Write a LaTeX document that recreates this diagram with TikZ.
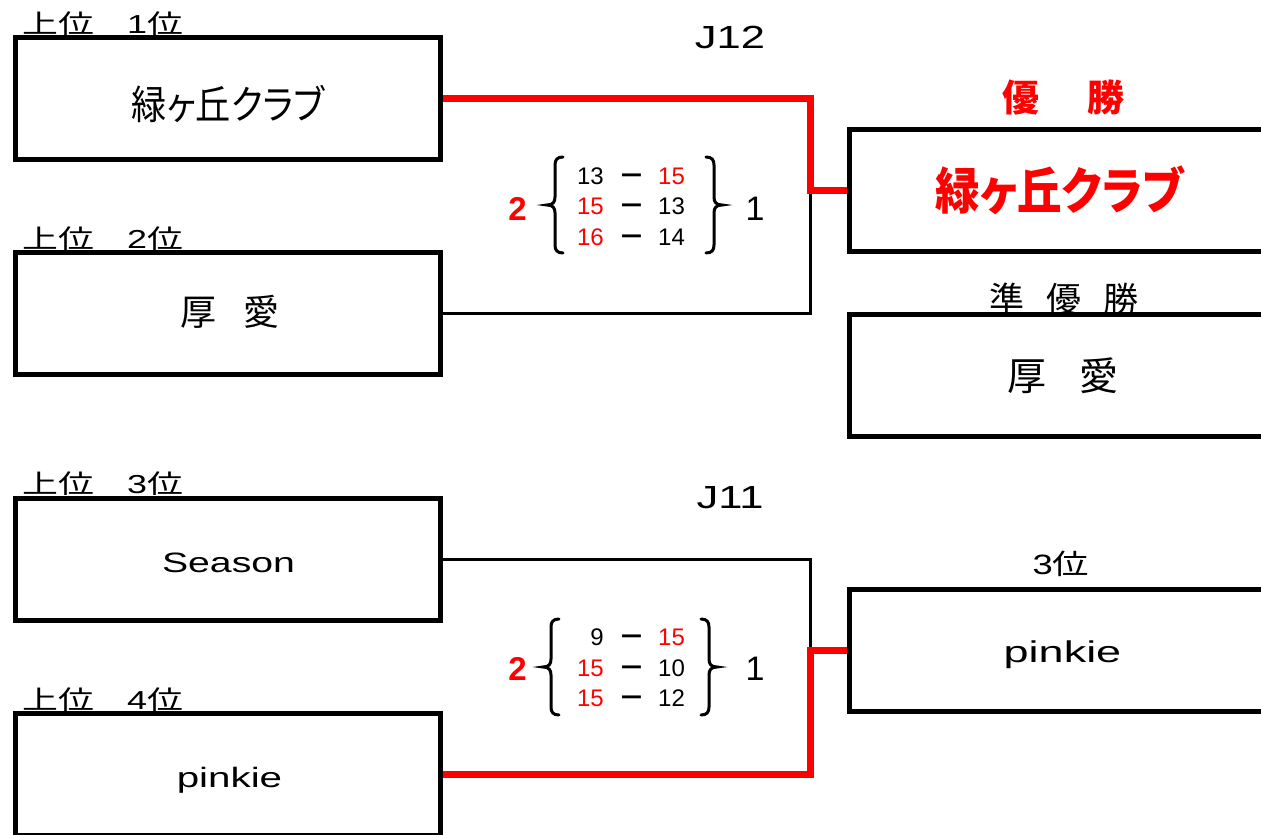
\documentclass[tikz,border=0pt]{standalone}
\usepackage{fontspec}
\usepackage{graphicx}
\setmainfont{Liberation Sans}
\newfontfamily\lat{Liberation Sans}
\newfontfamily\cjk[RawFeature=+palt]{Noto Sans CJK JP}
\newfontfamily\cjkf{Noto Sans CJK JP}
\newcommand\fsz[1]{\fontsize{#1}{#1}\selectfont}
\newcommand\scdash{\scalebox{1.12}[1]{\cjkf\bfseries －}}
\definecolor{winred}{RGB}{255,0,0}
\begin{document}
\begin{tikzpicture}[x=1pt,y=-1pt,
  teambox/.style={draw, line width=5pt, fill=white, minimum width=425.5pt, minimum height=122pt, inner sep=0pt},
  txt/.style={inner sep=0pt, anchor=base},
  lbl/.style={inner sep=0pt, anchor=base west},
  win/.style={draw=winred, line width=7pt},
  lose/.style={draw=black, line width=3pt},
  bracestroke/.style={line width=3pt, line cap=round},
  lbr/.pic={\draw[bracestroke] (16,-48) .. controls (10,-48) and (8,-45) .. (8,-40) -- (8,-8) .. controls (8,-3) and (6,0) .. (0,0) .. controls (6,0) and (8,3) .. (8,8) -- (8,40) .. controls (8,45) and (10,48) .. (16,48);}
]
\useasboundingbox (0,0) rectangle (1261,835);
\clip (0,0) rectangle (1261,835);

% labels above boxes
\node[lbl] (l1) at (22,33) {\fsz{26}\scalebox{1.38}[1]{\cjkf 上位\hspace{24pt}{\lat 1}位}};
\node[lbl] (l2) at (22,248) {\fsz{26}\scalebox{1.38}[1]{\cjkf 上位\hspace{24pt}{\lat 2}位}};
\node[lbl] (l3) at (22,493.5) {\fsz{26}\scalebox{1.38}[1]{\cjkf 上位\hspace{24pt}{\lat 3}位}};
\node[lbl] (l4) at (22,709) {\fsz{26}\scalebox{1.38}[1]{\cjkf 上位\hspace{24pt}{\lat 4}位}};
\node[txt] (j12) at (730,48) {\fsz{32}\scalebox{1.36}[1]{J12}};
\node[txt] (j11) at (730,508) {\fsz{32}\scalebox{1.36}[1]{J11}};
\node[txt, text=winred] (yu) at (1063.5,111) {\fsz{37}\cjkf\bfseries 優\hspace{49pt}勝};
\node[txt] (jun) at (1064,312) {\fsz{35}\cjkf 準\hspace{22pt}優\hspace{22pt}勝};
\node[txt] (san) at (1061,574) {\fsz{28}\scalebox{1.3}[1]{{\lat 3}\cjkf 位}};

% boxes
\node[teambox] (b1) at (227.75,98.5) {};
\node[teambox] (b2) at (227.75,313.5) {};
\node[teambox] (b3) at (227.75,559.25) {};
\node[teambox] (b4) at (227.75,774.5) {};
\node[teambox] (w) at (1062.25,190.5) {};
\node[teambox] (r) at (1062.25,375) {};
\node[teambox] (t) at (1062.25,650.5) {};

% connectors
\coordinate (j1) at (810,190.5);
\coordinate (j2) at (810,650.5);
\draw[lose] (b2.east) -| (j1);
\draw[win] (b1.east) -| (j1) -- (w.west);
\draw[lose] (b3.east) -| (j2);
\draw[win] (b4.east) -| (j2) -- (t.west);

% team names
\node[txt] (n1) at (228,119) {\fsz{40}\scalebox{0.88}[1]{\cjk 緑ヶ丘クラブ}};
\node[txt] (n2) at (230,325.5) {\fsz{36}\cjkf 厚\hspace{27pt}愛};
\node[txt] (n3) at (228.5,572) {\fsz{28}\scalebox{1.4}[1]{Season}};
\node[txt] (n4) at (229.5,787) {\fsz{28}\scalebox{1.44}[1]{pinkie}};
\node[txt, text=winred] (nw) at (1059.5,209) {\fsz{50}\scalebox{0.89}[1]{\cjk\bfseries 緑ヶ丘クラブ}};
\node[txt] (nr) at (1062.5,390) {\fsz{39}\cjkf 厚\hspace{33pt}愛};
\node[txt] (nt) at (1062.5,662) {\fsz{30}\scalebox{1.5}[1]{pinkie}};

% top score
\node[txt, text=winred] (ta) at (517.5,220) {\fsz{33}\bfseries 2};
\node[txt] (tb) at (755,220) {\fsz{34}1};
\pic at (547,205) {lbr};
\pic[xscale=-1] at (722,205) {lbr};
\node[txt, anchor=base east] (t1l) at (604,184.5) {\fsz{24}13};
\node[txt] (t1d) at (632,184.5) {\fsz{24}\scdash};
\node[txt, anchor=base west, text=winred] (t1r) at (658,184.5) {\fsz{24}15};
\node[txt, anchor=base east, text=winred] (t2l) at (604,214.5) {\fsz{24}15};
\node[txt] (t2d) at (632,214.5) {\fsz{24}\scdash};
\node[txt, anchor=base west] (t2r) at (658,214.5) {\fsz{24}13};
\node[txt, anchor=base east, text=winred] (t3l) at (604,245.5) {\fsz{24}16};
\node[txt] (t3d) at (632,245.5) {\fsz{24}\scdash};
\node[txt, anchor=base west] (t3r) at (658,245.5) {\fsz{24}14};

% bottom score
\node[txt, text=winred] (ba) at (517.5,680) {\fsz{33}\bfseries 2};
\node[txt] (bb) at (755,680) {\fsz{34}1};
\pic at (543,667) {lbr};
\pic[xscale=-1] at (717,667) {lbr};
\node[txt, anchor=base east] (u1l) at (604,645.5) {\fsz{24}9};
\node[txt] (u1d) at (632,645.5) {\fsz{24}\scdash};
\node[txt, anchor=base west, text=winred] (u1r) at (658,645.5) {\fsz{24}15};
\node[txt, anchor=base east, text=winred] (u2l) at (604,676.5) {\fsz{24}15};
\node[txt] (u2d) at (632,676.5) {\fsz{24}\scdash};
\node[txt, anchor=base west] (u2r) at (658,676.5) {\fsz{24}10};
\node[txt, anchor=base east, text=winred] (u3l) at (604,706.5) {\fsz{24}15};
\node[txt] (u3d) at (632,706.5) {\fsz{24}\scdash};
\node[txt, anchor=base west] (u3r) at (658,706.5) {\fsz{24}12};
\end{tikzpicture}
\end{document}
